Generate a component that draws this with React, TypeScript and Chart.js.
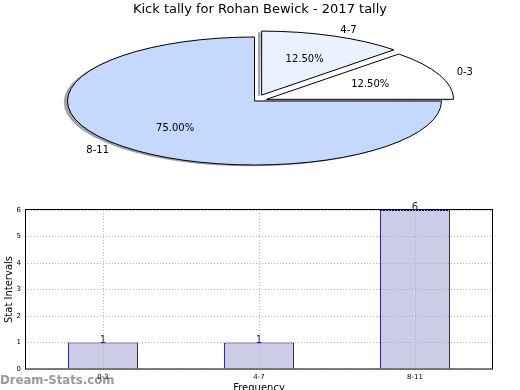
import React, { useEffect, useRef } from 'react';
import { Chart, registerables } from 'chart.js';

Chart.register(...registerables);

// ---- data ----
const TITLE = 'Kick tally for Rohan Bewick - 2017 tally';
const CATEGORIES = ['0-3', '4-7', '8-11'];
const COUNTS = [1, 1, 6];
const PIE_COLORS = ['#ffffff', '#ebf2ff', '#c5d9ff'];
const EXPLODE = [0.07, 0.1, 0];
const Y_TICKS = [0, 1, 2, 3, 4, 5, 6];
const X_TITLE = 'Frequency';
const Y_TITLE = 'Stat Intervals';
const WATERMARK = 'Dream-Stats.com';

// ---- style ----
const FONT = '"DejaVu Sans", sans-serif';
const PIE_RX = 187;
const PIE_K = 64 / 187;
const PIE_SHIFT = -5.5;
const SHADOW_D = 0.02 * PIE_RX;
const BAR_COLOR = '#ccccE6';
const BAR_EDGE = '#000080';
const GRID = '#b0b0b0';

function shadowColor(hex: string) {
  const h = hex.replace('#', '');
  const r = parseInt(h.slice(0, 2), 16) * 0.3;
  const g = parseInt(h.slice(2, 4), 16) * 0.3;
  const b = parseInt(h.slice(4, 6), 16) * 0.3;
  return `rgba(${Math.round(r)},${Math.round(g)},${Math.round(b)},0.5)`;
}

function arcTranslation(arc: any) {
  const circ = arc.endAngle - arc.startAngle;
  const o = (arc.options.offset || 0) / 4;
  const fix = 1 - Math.sin(Math.min(Math.PI, circ || 0));
  const t = o + o * fix;
  const half = (arc.startAngle + arc.endAngle) / 2;
  return { tx: Math.cos(half) * t, ty: Math.sin(half) * t, half };
}

function applyEllipse(ctx: CanvasRenderingContext2D, cx: number, cy: number) {
  ctx.translate(cx + PIE_SHIFT, cy);
  ctx.scale(1, PIE_K);
  ctx.translate(-cx, -cy);
}

function toScreen(cx: number, cy: number, u: number, v: number) {
  return [cx + PIE_SHIFT + (u - cx), cy + PIE_K * (v - cy)];
}

function wedgePath(ctx: CanvasRenderingContext2D, arc: any, dx: number, dy: number) {
  const { tx, ty } = arcTranslation(arc);
  const px = arc.x + tx + dx;
  const py = arc.y + ty + dy;
  ctx.save();
  applyEllipse(ctx, arc.x, arc.y);
  ctx.beginPath();
  ctx.moveTo(px, py);
  ctx.arc(px, py, arc.outerRadius, arc.startAngle, arc.endAngle);
  ctx.closePath();
  ctx.restore();
}

const piePlugin = {
  id: 'ellipsePie',
  beforeDatasetsDraw(chart: any) {
    const ctx = chart.ctx as CanvasRenderingContext2D;
    const arcs = chart.getDatasetMeta(0).data;
    const colors = chart.data.datasets[0].backgroundColor as string[];
    arcs.forEach((arc: any, i: number) => {
      wedgePath(ctx, arc, -SHADOW_D, SHADOW_D);
      ctx.fillStyle = shadowColor(colors[i]);
      ctx.fill();
    });
    const a0 = arcs[0];
    ctx.save();
    applyEllipse(ctx, a0.x, a0.y);
  },
  afterDatasetsDraw(chart: any) {
    const ctx = chart.ctx as CanvasRenderingContext2D;
    ctx.restore();
    const arcs = chart.getDatasetMeta(0).data;
    ctx.save();
    ctx.lineWidth = 1;
    ctx.strokeStyle = '#000000';
    ctx.lineJoin = 'round';
    arcs.forEach((arc: any) => {
      wedgePath(ctx, arc, 0, 0);
      ctx.stroke();
    });
    const vals = chart.data.datasets[0].data as number[];
    const labels = chart.data.labels as string[];
    const total = vals.reduce((a, b) => a + b, 0);
    ctx.fillStyle = '#000000';
    ctx.font = `10px ${FONT}`;
    ctx.textBaseline = 'middle';
    arcs.forEach((arc: any, i: number) => {
      const { tx, ty, half } = arcTranslation(arc);
      const c = Math.cos(half);
      const s = Math.sin(half);
      const r = arc.outerRadius;
      const [px, py] = toScreen(arc.x, arc.y, arc.x + tx + 0.6 * r * c, arc.y + ty + 0.6 * r * s);
      ctx.textAlign = 'center';
      ctx.fillText(((vals[i] / total) * 100).toFixed(2) + '%', px, py);
      const [lx, ly] = toScreen(arc.x, arc.y, arc.x + tx + 1.1 * r * c, arc.y + ty + 1.1 * r * s);
      ctx.textAlign = c > 0.0001 ? 'left' : c < -0.0001 ? 'right' : 'center';
      ctx.fillText(labels[i], lx, ly);
    });
    ctx.restore();
  },
};

const barPlugin = {
  id: 'barExtras',
  beforeDraw(chart: any) {
    const ctx = chart.ctx as CanvasRenderingContext2D;
    ctx.save();
    ctx.font = `bold 13px "DejaVu Sans Condensed", ${FONT}`;
    ctx.fillStyle = '#9a9a9a';
    ctx.textAlign = 'left';
    ctx.textBaseline = 'alphabetic';
    ctx.fillText(WATERMARK, 0, 194);
    ctx.restore();
  },
  afterDraw(chart: any) {
    const ctx = chart.ctx as CanvasRenderingContext2D;
    const a = chart.chartArea;
    ctx.save();
    ctx.strokeStyle = '#000000';
    ctx.lineWidth = 1;
    ctx.strokeRect(Math.round(a.left) + 0.5, Math.round(a.top) - 0.5, Math.round(a.right - a.left) - 1, Math.round(a.bottom - a.top) + 0.5);
    const meta = chart.getDatasetMeta(0);
    const vals = chart.data.datasets[0].data as number[];
    ctx.fillStyle = '#1a1a8c';
    ctx.font = `10px ${FONT}`;
    ctx.textAlign = 'center';
    ctx.textBaseline = 'alphabetic';
    meta.data.forEach((bar: any, i: number) => {
      ctx.fillText(String(vals[i]), bar.x, bar.y);
    });
    ctx.restore();
  },
};

export default function App() {
  const pieRef = useRef<HTMLCanvasElement>(null);
  const barRef = useRef<HTMLCanvasElement>(null);

  useEffect(() => {
    const pieLabels = [...CATEGORIES].reverse();
    const pieValues = [...COUNTS].reverse();
    const pieColors = [...PIE_COLORS].reverse();
    const pieExplode = [...EXPLODE].reverse();
    const total = pieValues.reduce((a, b) => a + b, 0);
    const pieOffsets = pieValues.map((v, i) => {
      const circ = (v / total) * Math.PI * 2;
      const T = pieExplode[i] * PIE_RX;
      return (4 * T) / (2 - Math.sin(Math.min(Math.PI, circ)));
    });

    const pie = new Chart(pieRef.current as HTMLCanvasElement, {
      type: 'pie',
      data: {
        labels: pieLabels,
        datasets: [
          {
            data: pieValues,
            backgroundColor: pieColors,
            borderWidth: 0,
            offset: pieOffsets,
            clip: false,
          } as any,
        ],
      },
      options: {
        animation: false,
        responsive: false,
        events: [],
        rotation: 90,
        radius: PIE_RX,
        layout: { padding: { top: 0, bottom: 5.6, left: 0, right: 0 } },
        plugins: {
          legend: { display: false },
          tooltip: { enabled: false },
          title: {
            display: true,
            text: TITLE,
            color: '#000000',
            font: { family: FONT, size: 13, weight: 'normal' },
            padding: { top: 2, bottom: 0 },
          },
        },
      } as any,
      plugins: [piePlugin],
    });

    const bar = new Chart(barRef.current as HTMLCanvasElement, {
      type: 'bar',
      data: {
        labels: CATEGORIES,
        datasets: [
          {
            data: COUNTS,
            backgroundColor: BAR_COLOR,
            borderColor: BAR_EDGE,
            borderWidth: 1,
            barPercentage: 0.45,
            categoryPercentage: 1,
          },
        ],
      },
      options: {
        animation: false,
        responsive: false,
        events: [],
        layout: { padding: { top: 20, right: 27, left: 0, bottom: 0 } },
        plugins: { legend: { display: false }, tooltip: { enabled: false } },
        scales: {
          x: {
            grid: { offset: false, color: GRID, lineWidth: 1, drawTicks: false, z: 1 },
            border: { display: false, dash: [1, 2] },
            ticks: { color: '#000000', font: { family: FONT, size: 7 }, padding: 4, maxRotation: 0, autoSkip: false },
            title: {
              display: true,
              text: X_TITLE,
              color: '#000000',
              font: { family: FONT, size: 10 },
              padding: { top: 0, bottom: -4 },
            },
            afterFit: (s: any) => {
              s.height = 21;
            },
          },
          y: {
            min: Y_TICKS[0],
            max: Y_TICKS[Y_TICKS.length - 1],
            grid: { color: GRID, lineWidth: 1, drawTicks: false, z: 1 },
            border: { display: false, dash: [1, 2] },
            ticks: { stepSize: 1, color: '#000000', font: { family: FONT, size: 7 }, padding: 4 },
            title: {
              display: true,
              text: Y_TITLE,
              color: '#000000',
              font: { family: FONT, size: 10 },
              padding: { top: 3, bottom: 0 },
            },
            afterFit: (s: any) => {
              s.width = 25;
            },
          },
        },
      } as any,
      plugins: [barPlugin],
    });

    return () => {
      pie.destroy();
      bar.destroy();
    };
  }, []);

  return (
    <div
      style={{
        position: 'absolute',
        left: 0,
        top: 0,
        width: 520,
        height: 390,
        overflow: 'hidden',
        background: '#ffffff',
      }}
    >
      <canvas
        ref={pieRef}
        width={520}
        height={190}
        style={{ position: 'absolute', left: 0, top: 0, width: 520, height: 190, display: 'block' }}
      />
      <canvas
        ref={barRef}
        width={520}
        height={200}
        style={{ position: 'absolute', left: 0, top: 190, width: 520, height: 200, display: 'block' }}
      />
    </div>
  );
}
